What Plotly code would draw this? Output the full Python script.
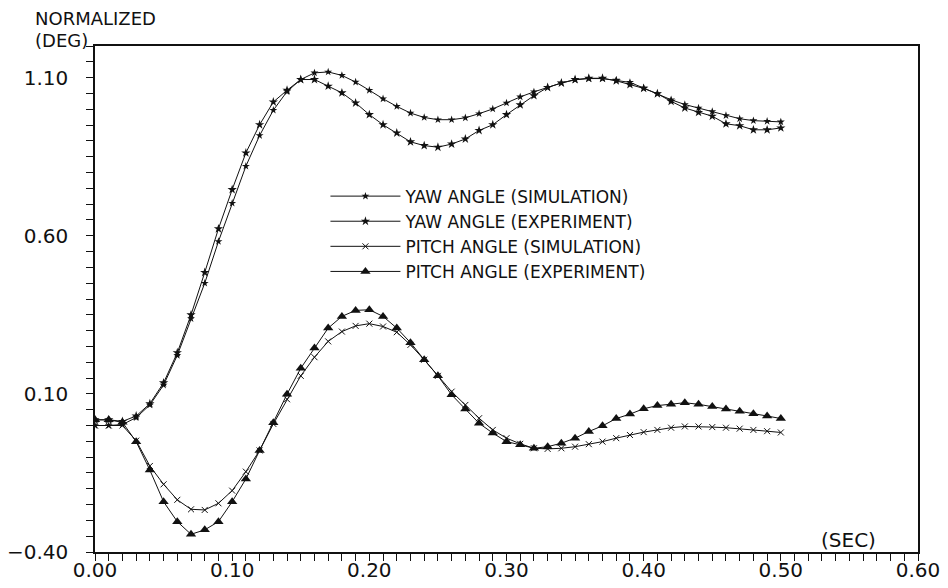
import plotly.graph_objects as go

time_s = [round(i * 0.01, 2) for i in range(51)]

yaw_simulation = [
    0.000, 0.000, 0.003, 0.025, 0.065, 0.128, 0.222, 0.338, 0.450, 0.582,
    0.703, 0.820, 0.917, 0.997, 1.056, 1.094, 1.115, 1.118, 1.107, 1.086,
    1.060, 1.033, 1.009, 0.988, 0.974, 0.967, 0.967, 0.973, 0.986, 1.001,
    1.020, 1.039, 1.055, 1.069, 1.083, 1.093, 1.097, 1.097, 1.092, 1.085,
    1.067, 1.049, 1.030, 1.015, 1.004, 0.993, 0.980, 0.970, 0.964, 0.962,
    0.960,
]

yaw_experiment = [
    0.018, 0.018, 0.013, 0.030, 0.069, 0.135, 0.230, 0.350, 0.484, 0.622,
    0.746, 0.862, 0.951, 1.023, 1.060, 1.094, 1.094, 1.073, 1.052, 1.020,
    0.983, 0.951, 0.925, 0.897, 0.885, 0.880, 0.890, 0.906, 0.933, 0.951,
    0.983, 1.014, 1.043, 1.069, 1.083, 1.094, 1.098, 1.098, 1.090, 1.078,
    1.066, 1.049, 1.025, 1.004, 0.990, 0.978, 0.954, 0.948, 0.935, 0.935,
    0.941,
]

pitch_simulation = [
    0.000, 0.000, 0.000, -0.048, -0.128, -0.186, -0.235, -0.265, -0.267, -0.246,
    -0.206, -0.146, -0.079, 0.005, 0.083, 0.157, 0.216, 0.266, 0.297, 0.315,
    0.322, 0.313, 0.295, 0.255, 0.208, 0.157, 0.107, 0.065, 0.023, -0.014,
    -0.040, -0.058, -0.072, -0.074, -0.072, -0.067, -0.059, -0.051, -0.040, -0.030,
    -0.021, -0.014, -0.007, -0.003, -0.003, -0.005, -0.007, -0.010, -0.014, -0.018,
    -0.022,
]

pitch_experiment = [
    0.018, 0.018, 0.010, -0.051, -0.141, -0.241, -0.304, -0.344, -0.330, -0.304,
    -0.241, -0.169, -0.079, 0.009, 0.099, 0.181, 0.245, 0.308, 0.345, 0.364,
    0.366, 0.345, 0.308, 0.262, 0.208, 0.157, 0.097, 0.052, 0.007, -0.024,
    -0.051, -0.061, -0.072, -0.067, -0.056, -0.040, -0.019, -0.001, 0.022, 0.036,
    0.053, 0.063, 0.067, 0.072, 0.067, 0.060, 0.052, 0.045, 0.037, 0.030,
    0.022,
]

series_names = [
    "YAW ANGLE (SIMULATION)",
    "YAW ANGLE (EXPERIMENT)",
    "PITCH ANGLE (SIMULATION)",
    "PITCH ANGLE (EXPERIMENT)",
]

x_tick_vals = [0.0, 0.1, 0.2, 0.3, 0.4, 0.5, 0.6]
x_tick_text = ["0.00", "0.10", "0.20", "0.30", "0.40", "0.50", "0.60"]
y_tick_vals = [-0.4, 0.1, 0.6, 1.1]
y_tick_text = ["\u22120.40", "0.10", "0.60", "1.10"]

FONT = "DejaVu Sans"
BLACK = "#111111"

styles = [
    dict(symbol="star", size=6, line=dict(width=0)),
    dict(symbol="star", size=7, line=dict(width=0)),
    dict(symbol="x-thin-open", size=6, line=dict(width=1, color=BLACK)),
    dict(symbol="triangle-up", size=9, line=dict(width=0)),
]
data = [yaw_simulation, yaw_experiment, pitch_simulation, pitch_experiment]

fig = go.Figure()
for name, ys, st in zip(series_names, data, styles):
    fig.add_trace(go.Scatter(
        x=time_s, y=ys, name=name, mode="lines+markers",
        line=dict(color=BLACK, width=1),
        marker=dict(color=BLACK, **st),
    ))

axis_common = dict(
    showgrid=False, zeroline=False, showline=True, linecolor=BLACK,
    linewidth=1.5, mirror=True, ticks="outside", ticklen=7,
    tickcolor=BLACK, tickwidth=1, automargin=False,
    tickfont=dict(family=FONT, size=20, color=BLACK),
)

fig.update_xaxes(
    range=[0, 0.6], tickvals=x_tick_vals, ticktext=x_tick_text,
    minor=dict(dtick=0.01, ticks="outside", ticklen=7, tickcolor=BLACK, tickwidth=1),
    ticklabelstandoff=-8,
    **axis_common,
)
fig.update_yaxes(
    range=[-0.4, 1.2], tickvals=y_tick_vals, ticktext=y_tick_text,
    minor=dict(dtick=0.05, ticks="outside", ticklen=7, tickcolor=BLACK, tickwidth=1),
    ticklabelstandoff=14,
    **axis_common,
)

label_font = dict(family=FONT, size=18, color=BLACK)
fig.add_annotation(text="NORMALIZED", xref="paper", yref="paper",
                   x=-0.074, y=1.054, xanchor="left", yanchor="middle",
                   showarrow=False, font=label_font, borderpad=0)
fig.add_annotation(text="(DEG)", xref="paper", yref="paper",
                   x=-0.074, y=1.010, xanchor="left", yanchor="middle",
                   showarrow=False, font=label_font, borderpad=0)
fig.add_annotation(text="(SEC)", xref="paper", yref="paper",
                   x=0.951, y=0.024, xanchor="right", yanchor="middle",
                   showarrow=False, font=dict(family=FONT, size=20, color=BLACK))

# the page body keeps its default 8px margin, so the figure is sized to fit
fig.update_layout(
    width=940, height=580,
    margin=dict(l=87, r=30, t=38, b=36, autoexpand=False),
    paper_bgcolor="white", plot_bgcolor="white",
    showlegend=True,
    legend=dict(
        x=0.28, y=0.738, xanchor="left", yanchor="top",
        bgcolor="rgba(0,0,0,0)", borderwidth=0,
        font=dict(family=FONT, size=17, color=BLACK),
        itemwidth=70, tracegroupgap=0,
    ),
)

fig.write_html("out.html")
